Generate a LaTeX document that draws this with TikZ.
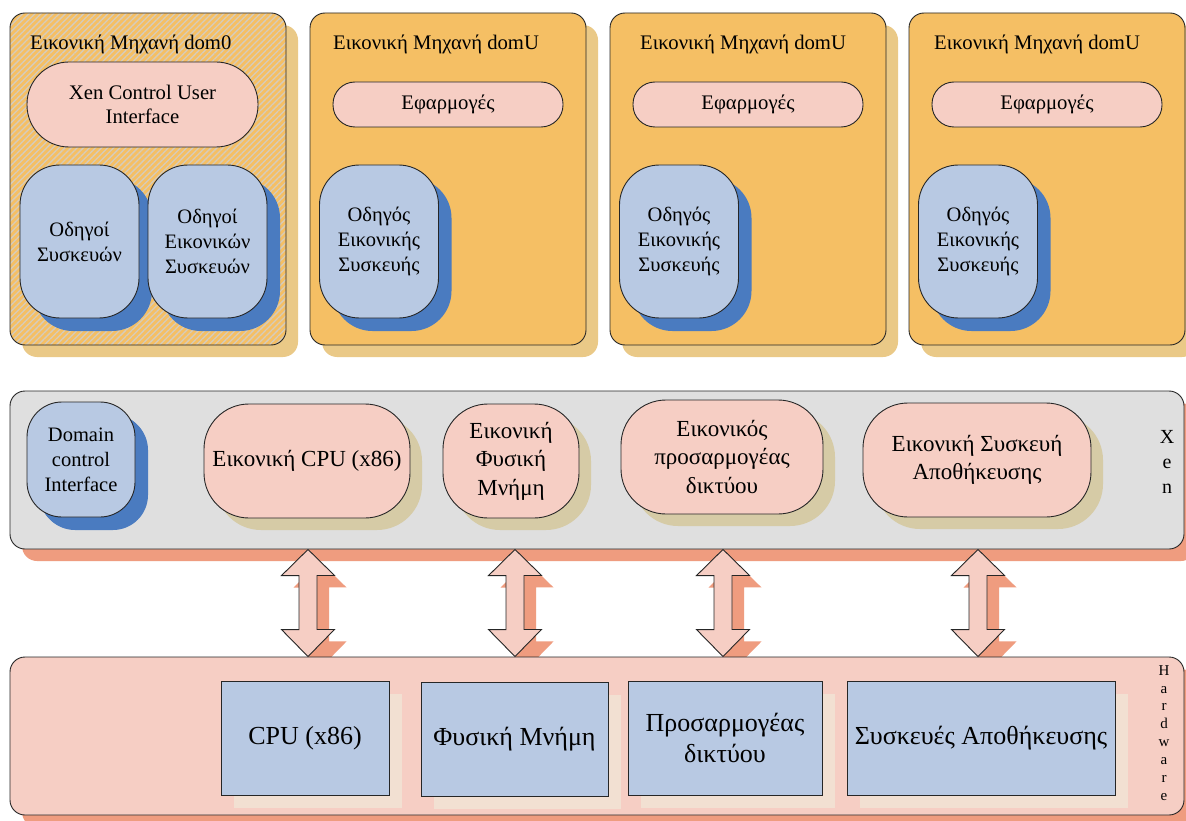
\documentclass[tikz,border=0pt]{standalone}
\usepackage{fontspec}
\setmainfont{Liberation Serif}
\usetikzlibrary{shadows,patterns.meta}
\pgfdeclarelayer{bgzero}
\pgfdeclarelayer{bgone}
\pgfsetlayers{bgzero,bgone,main}
\definecolor{orng}{HTML}{F5BF64}
\definecolor{orngsh}{HTML}{EAC987}
\definecolor{blfill}{HTML}{B8C9E3}
\definecolor{blsh}{HTML}{4A7BC0}
\definecolor{pnk}{HTML}{F6CEC4}
\definecolor{gry}{HTML}{DFDFDF}
\definecolor{slmn}{HTML}{EF9C7F}
\definecolor{tansh}{HTML}{D6CBA6}
\definecolor{beigesh}{HTML}{F2E0D2}
\definecolor{hatchc}{HTML}{D6CCBC}
\tikzset{
  base/.style={draw=black!85, line width=0.9pt, align=center, inner sep=0pt, text=black},
  vmbox/.style={base, fill=orng, rounded corners=15pt, minimum width=276pt, minimum height=332pt,
     drop shadow={shadow xshift=12pt, shadow yshift=-12pt, fill=orngsh, opacity=1}},
  vmtitle/.style={anchor=west, inner sep=0pt, font=\fontsize{20.7}{24}\selectfont},
  pill/.style={base, fill=pnk, minimum width=230pt, font=\fontsize{20.7}{24.5}\selectfont},
  drv/.style={base, fill=blfill, rounded corners=40pt, minimum width=119pt, minimum height=153pt,
     font=\fontsize{20.5}{25}\selectfont,
     drop shadow={shadow xshift=13pt, shadow yshift=-13pt, fill=blsh, opacity=1}},
  bar/.style={base, rounded corners=15pt, minimum width=1174pt, minimum height=158pt,
     drop shadow={shadow xshift=12pt, shadow yshift=-12pt, fill=slmn, opacity=1}},
  vdev/.style={base, fill=pnk, rounded corners=45pt, minimum height=114pt,
     font=\fontsize{23}{28.5}\selectfont,
     drop shadow={shadow xshift=12pt, shadow yshift=-12pt, fill=tansh, opacity=1}},
  hwdev/.style={base, fill=blfill, minimum height=114pt,
     font=\fontsize{26}{31}\selectfont,
     drop shadow={shadow xshift=12.5pt, shadow yshift=-12.5pt, fill=beigesh, opacity=1}},
  dblarr/.style={draw=black!85, line width=0.9pt, fill=pnk, line join=miter},
  dblarrsh/.style={fill=slmn, transform canvas={xshift=12pt, yshift=-12pt}},
}
\newcommand\mydblarrow[1]{%
  \fill[dblarrsh] (#1t) -- ++(26.5,26) -- ++(-17.5,0) -- ++(0,54) -- ++(17.5,0) -- (#1b)
     -- ++(-26.5,-27) -- ++(17.5,0) -- ++(0,-54) -- ++(-17.5,0) -- cycle;
}
\newcommand\mydblarrowfg[1]{%
  \draw[dblarr] (#1t) -- ++(26.5,26) -- ++(-17.5,0) -- ++(0,54) -- ++(17.5,0) -- (#1b)
     -- ++(-26.5,-27) -- ++(17.5,0) -- ++(0,-54) -- ++(-17.5,0) -- cycle;
}
\begin{document}
\begin{tikzpicture}[x=1pt,y=-1pt]
\useasboundingbox (0,0) rectangle (1186,821);
\clip (0,0) rectangle (1186,821);
\begin{pgfonlayer}{bgzero}
\fill[white] (0,0) rectangle (1186,821);
\end{pgfonlayer}

% ---------- virtual machines ----------
\node[vmbox, fill=none, preaction={fill=orng},
      preaction={pattern={Lines[angle=45,distance=4.3pt,line width=1.3pt]}, pattern color=hatchc}] (dom0) at (148,179) {};
\node[vmbox] (domu1) at (448,179) {};
\node[vmbox] (domu2) at (748,179) {};
\node[vmbox] (domu3) at (1047,179) {};

\node[vmtitle] (t0) at (30,44) {Εικονική Μηχανή dom0};
\node[vmtitle] (t1) at (333,44) {Εικονική Μηχανή domU};
\node[vmtitle] (t2) at (640,44) {Εικονική Μηχανή domU};
\node[vmtitle] (t3) at (934,44) {Εικονική Μηχανή domU};

\node[pill, minimum width=231pt, minimum height=85pt, rounded corners=42pt] (xcui) at (142.5,104.5) {Xen Control User\\Interface};
\node[pill, minimum height=45pt, rounded corners=22pt] (app1) at (448,104.5) {Εφαρμογές};
\node[pill, minimum height=45pt, rounded corners=22pt] (app2) at (748,104.5) {Εφαρμογές};
\node[pill, minimum height=45pt, rounded corners=22pt] (app3) at (1047,104.5) {Εφαρμογές};

\node[drv] (drv0a) at (79.5,241.5) {Οδηγοί\\Συσκευών};
\node[drv] (drv0b) at (207.5,241.5) {Οδηγοί\\Εικονικών\\Συσκευών};
\node[drv] (drv1) at (379,241.5) {Οδηγός\\Εικονικής\\Συσκευής};
\node[drv] (drv2) at (679,241.5) {Οδηγός\\Εικονικής\\Συσκευής};
\node[drv] (drv3) at (978,241.5) {Οδηγός\\Εικονικής\\Συσκευής};

% ---------- Xen ----------
\node[bar, fill=gry] (xen) at (597,470) {};
\node[drv, rounded corners=35pt, minimum width=108pt, minimum height=115pt,
      drop shadow={shadow xshift=12pt, shadow yshift=-12pt, fill=blsh, opacity=1}] (dci) at (81,459.5) {Domain\\control\\Interface};
\node[vdev, minimum width=206pt] (vcpu) at (307,461) {Εικονική CPU (x86)};
\node[vdev, minimum width=136pt] (vmem) at (511,461) {Εικονική\\Φυσική\\Μνήμη};
\node[vdev, minimum width=202pt] (vnet) at (722,457) {Εικονικός\\προσαρμογέας\\δικτύου};
\node[vdev, minimum width=228pt] (vsto) at (977,460) {Εικονική Συσκευή\\Αποθήκευσης};
\node[align=center, inner sep=0pt, font=\fontsize{20}{25}\selectfont] (xenlbl) at (1167,462) {X\\e\\n};

% ---------- Hardware ----------
\node[bar, fill=pnk] (hw) at (597,736) {};
\node[hwdev, minimum width=168pt] (hcpu) at (305,738) {CPU (x86)};
\node[hwdev, minimum width=187pt] (hmem) at (514.5,739) {Φυσική Μνήμη};
\node[hwdev, minimum width=194pt] (hnet) at (725,738) {Προσαρμογέας\\δικτύου};
\node[hwdev, minimum width=268pt] (hsto) at (981,738) {Συσκευές Αποθήκευσης};
\node[align=center, inner sep=0pt, font=\fontsize{15}{17.9}\selectfont] (hwlbl) at (1164,733) {H\\a\\r\\d\\w\\a\\r\\e};

% ---------- arrows ----------
\coordinate (a1t) at (xen.south -| 308,0);
\coordinate (a1b) at (hw.north -| 308,0);
\coordinate (a2t) at (xen.south -| 515,0);
\coordinate (a2b) at (hw.north -| 515,0);
\coordinate (a3t) at (xen.south -| 723,0);
\coordinate (a3b) at (hw.north -| 723,0);
\coordinate (a4t) at (xen.south -| 978,0);
\coordinate (a4b) at (hw.north -| 978,0);
\begin{pgfonlayer}{bgone}
\mydblarrow{a1}\mydblarrow{a2}\mydblarrow{a3}\mydblarrow{a4}
\end{pgfonlayer}
\mydblarrowfg{a1}\mydblarrowfg{a2}\mydblarrowfg{a3}\mydblarrowfg{a4}
\end{tikzpicture}
\end{document}
